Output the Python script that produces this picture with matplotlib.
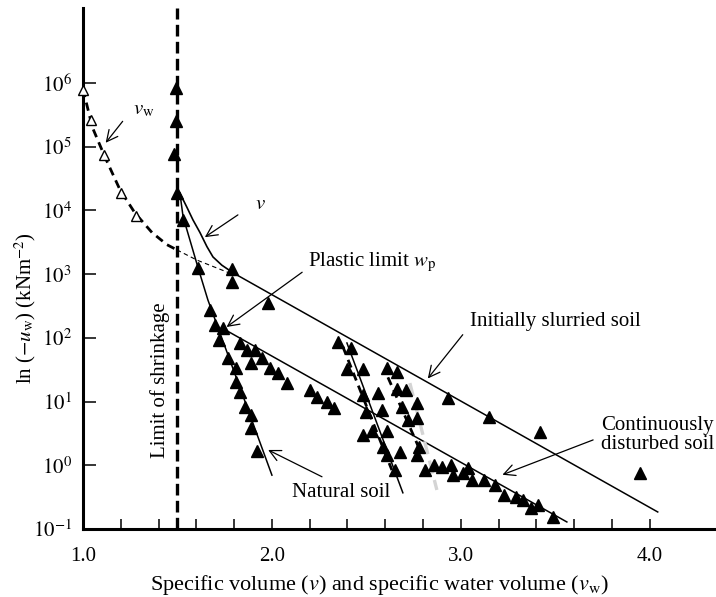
import matplotlib
matplotlib.use("Agg")
import matplotlib.pyplot as plt
import numpy as np
from matplotlib.ticker import FixedLocator, FuncFormatter, NullLocator

plt.rcParams["font.family"] = ["Liberation Serif", "DejaVu Serif"]
plt.rcParams["mathtext.fontset"] = "stix"

# specific water volume v_w (open triangles) and its dashed trend
vw_open_x = [1.00, 1.04, 1.11, 1.20, 1.28]
vw_open_y = [7.8e5, 2.6e5, 7.4e4, 1.9e4, 8.1e3]
vw_curve_x = [1.00, 1.05, 1.116, 1.196, 1.275, 1.365, 1.444, 1.497]
vw_curve_y = [8.0e5, 2.0e5, 6.9e4, 2.1e4, 9.1e3, 4.5e3, 2.9e3, 2.4e3]
vw_ext_x = [1.497, 1.603, 1.79]
vw_ext_y = [2.4e3, 1.66e3, 1.0e3]

# points sitting on the limit of shrinkage
shrink_limit = 1.5
shrink_x = [1.49, 1.49, 1.48, 1.50]
shrink_y = [8.3e5, 2.5e5, 7.8e4, 1.9e4]

# specific volume v curve
v_curve_x = [1.513, 1.550, 1.582, 1.619, 1.656, 1.688, 1.735, 1.794]
v_curve_y = [1.86e4, 1.12e4, 7.1e3, 4.5e3, 2.7e3, 1.86e3, 1.38e3, 1.05e3]

# natural soil
natural_line_x = [1.513, 1.53, 1.608, 1.661, 2.00]
natural_line_y = [1.86e4, 7.9e3, 1.29e3, 394, 0.70]
natural_x = [1.53, 1.61, 1.67, 1.70, 1.74, 1.72, 1.77, 1.81, 1.81, 1.83, 1.86, 1.89, 1.89, 1.92]
natural_y = [7.1e3, 1.26e3, 275, 158, 145, 93, 48, 34, 20, 14, 8.3, 6.2, 3.9, 1.7]

# initially slurried soil
slurried_x = [1.79, 1.79, 1.98, 2.35, 2.93, 3.15, 3.42, 3.95]
slurried_y = [1.2e3, 760, 355, 87, 11.5, 5.8, 3.3, 0.76]
slurried_line_x = [1.794, 4.042]
slurried_line_y = [1.05e3, 0.185]

# continuously disturbed soil
disturbed_x = [1.83, 1.87, 1.91, 1.89, 1.95, 1.99, 2.03, 2.08, 2.20, 2.24, 2.29, 2.33,
               2.81, 2.86, 2.90, 2.95, 2.96, 3.01, 3.04, 3.06, 3.12, 3.18, 3.23, 3.29,
               3.33, 3.37, 3.41, 3.49]
disturbed_y = [83, 65, 65, 41, 48, 34, 28, 19.5, 15, 11.7, 9.8, 8.0,
               0.85, 1.0, 0.93, 1.0, 0.71, 0.76, 0.91, 0.59, 0.59, 0.49, 0.34, 0.32,
               0.29, 0.21, 0.24, 0.155]
disturbed_line_x = [1.735, 3.561]
disturbed_line_y = [143, 0.129]

# intermediate tests between the two trends
cluster_x = [2.42, 2.40, 2.48, 2.48, 2.56, 2.50, 2.58, 2.61, 2.66, 2.66, 2.71, 2.69,
             2.77, 2.72, 2.77, 2.48, 2.53, 2.61, 2.59, 2.61, 2.68, 2.65, 2.77, 2.78]
cluster_y = [69, 32, 32, 12.6, 13.8, 6.9, 7.4, 34, 29, 16, 15, 8.3,
             9.5, 5.1, 5.5, 3.0, 3.5, 3.5, 1.95, 1.45, 1.6, 0.85, 1.45, 1.95]
steep_solid_x = [2.397, 2.693]
steep_solid_y = [83, 0.37]
steep_dash_x = [2.376, 2.635]
steep_dash_y = [72, 0.84]
steep_dash2_x = [2.614, 2.783]
steep_dash2_y = [24, 1.74]
steep_grey_x = [2.73, 2.873]
steep_grey_y = [19.5, 0.41]

x_ticks = [1.0, 2.0, 3.0, 4.0]
y_decades = [-1, 0, 1, 2, 3, 4, 5, 6]

fs = 15
fig = plt.figure(figsize=(7.16, 5.97), dpi=100)
ax = fig.add_axes([0.1159, 0.1139, 0.884, 0.8727])
ax.set_yscale("log")
ax.set_xlim(1.0, 4.35)
ax.set_ylim(0.1, 1.5e7)

# trend lines
ax.axvline(shrink_limit, color="black", lw=2.4, ls=(0, (3.5, 1.6)), zorder=2)
ax.plot(vw_curve_x, vw_curve_y, color="black", lw=2.0, ls=(0, (3, 2)))
ax.plot(vw_ext_x, vw_ext_y, color="black", lw=0.8, ls=(0, (4, 3)))
ax.plot(v_curve_x, v_curve_y, color="black", lw=1.2)
ax.plot(natural_line_x, natural_line_y, color="black", lw=1.1)
ax.plot(slurried_line_x, slurried_line_y, color="black", lw=1.1)
ax.plot(disturbed_line_x, disturbed_line_y, color="black", lw=1.1)
ax.plot(steep_solid_x, steep_solid_y, color="black", lw=1.1)
ax.plot(steep_dash_x, steep_dash_y, color="black", lw=2.0, ls=(0, (3, 2)))
ax.plot(steep_dash2_x, steep_dash2_y, color="black", lw=2.0, ls=(0, (3, 2)))
ax.plot(steep_grey_x, steep_grey_y, color="#d4d4d4", lw=2.4, ls=(0, (4, 2)))

# data points
tri = dict(marker="^", ls="none", color="black", ms=8.2, zorder=4)
ax.plot(shrink_x, shrink_y, **tri)
ax.plot(natural_x, natural_y, **tri)
ax.plot(slurried_x, slurried_y, **tri)
ax.plot(disturbed_x, disturbed_y, **tri)
ax.plot(cluster_x, cluster_y, **tri)
ax.plot(vw_open_x, vw_open_y, marker="^", ls="none", ms=7.5, mfc="white",
        mec="black", mew=1.0, zorder=4, clip_on=False)

# labels with arrows
arrow = dict(arrowstyle="->", lw=0.9, color="black", mutation_scale=20,
             shrinkA=0, shrinkB=0)
ax.annotate("", xy=(1.12, 1.15e5), xytext=(1.21, 2.5e5), arrowprops=arrow)
ax.text(1.265, 3.8e5, r"$v_{\mathrm{w}}$", fontsize=fs, ha="left", va="center")

ax.annotate("", xy=(1.645, 3.8e3), xytext=(1.82, 8.5e3), arrowprops=arrow)
ax.text(1.91, 1.25e4, r"$v$", fontsize=fs, ha="left", va="center")

ax.annotate("", xy=(1.76, 148), xytext=(2.16, 1.07e3), arrowprops=arrow)
ax.text(2.19, 1.5e3, r"Plastic limit $w_{\mathrm{p}}$", fontsize=fs,
        ha="left", va="center")

ax.annotate("", xy=(2.825, 23), xytext=(3.01, 112), arrowprops=arrow)
ax.text(3.50, 180, "Initially slurried soil", fontsize=fs, ha="center", va="center")

ax.annotate("", xy=(3.22, 0.71), xytext=(3.70, 2.5), arrowprops=arrow)
ax.text(4.04, 3.0, "Continuously\ndisturbed soil", fontsize=fs, ha="center",
        va="center", linespacing=0.95)

ax.annotate("", xy=(1.98, 1.74), xytext=(2.265, 0.66), arrowprops=arrow)
ax.text(2.365, 0.37, "Natural soil", fontsize=fs, ha="center", va="center")

ax.text(1.41, 22, "Limit of shrinkage", fontsize=fs, rotation=90,
        ha="center", va="center")

# axes styling
for side in ("top", "right"):
    ax.spines[side].set_visible(False)
for side in ("left", "bottom"):
    ax.spines[side].set_linewidth(2.2)

ax.xaxis.set_major_locator(FixedLocator(x_ticks))
ax.xaxis.set_minor_locator(FixedLocator(np.arange(1.2, 4.01, 0.2)))
ax.xaxis.set_major_formatter(FuncFormatter(lambda v, p: f"{v:.1f}"))
ax.yaxis.set_major_locator(FixedLocator([10.0 ** k for k in y_decades]))
ax.yaxis.set_minor_locator(NullLocator())
ax.yaxis.set_major_formatter(
    FuncFormatter(lambda v, p: r"$10^{%d}$" % round(np.log10(v))))
ax.tick_params(axis="x", which="both", direction="in", length=7.5, width=1.1,
               pad=13, labelsize=fs)
ax.tick_params(axis="y", which="major", direction="in", length=9.5, width=1.1,
               pad=8, labelsize=fs)

ax.set_xlabel(r"Specific volume ($v$) and specific water volume ($v_{\mathrm{w}}$)",
              fontsize=16)
ax.xaxis.set_label_coords(0.468, -0.085)
ax.set_ylabel(r"ln ($-u_{\mathrm{w}}$) (kNm$^{-2}$)", fontsize=fs)
ax.yaxis.set_label_coords(-0.071, 0.424)

fig.savefig("out.png", dpi=100)
